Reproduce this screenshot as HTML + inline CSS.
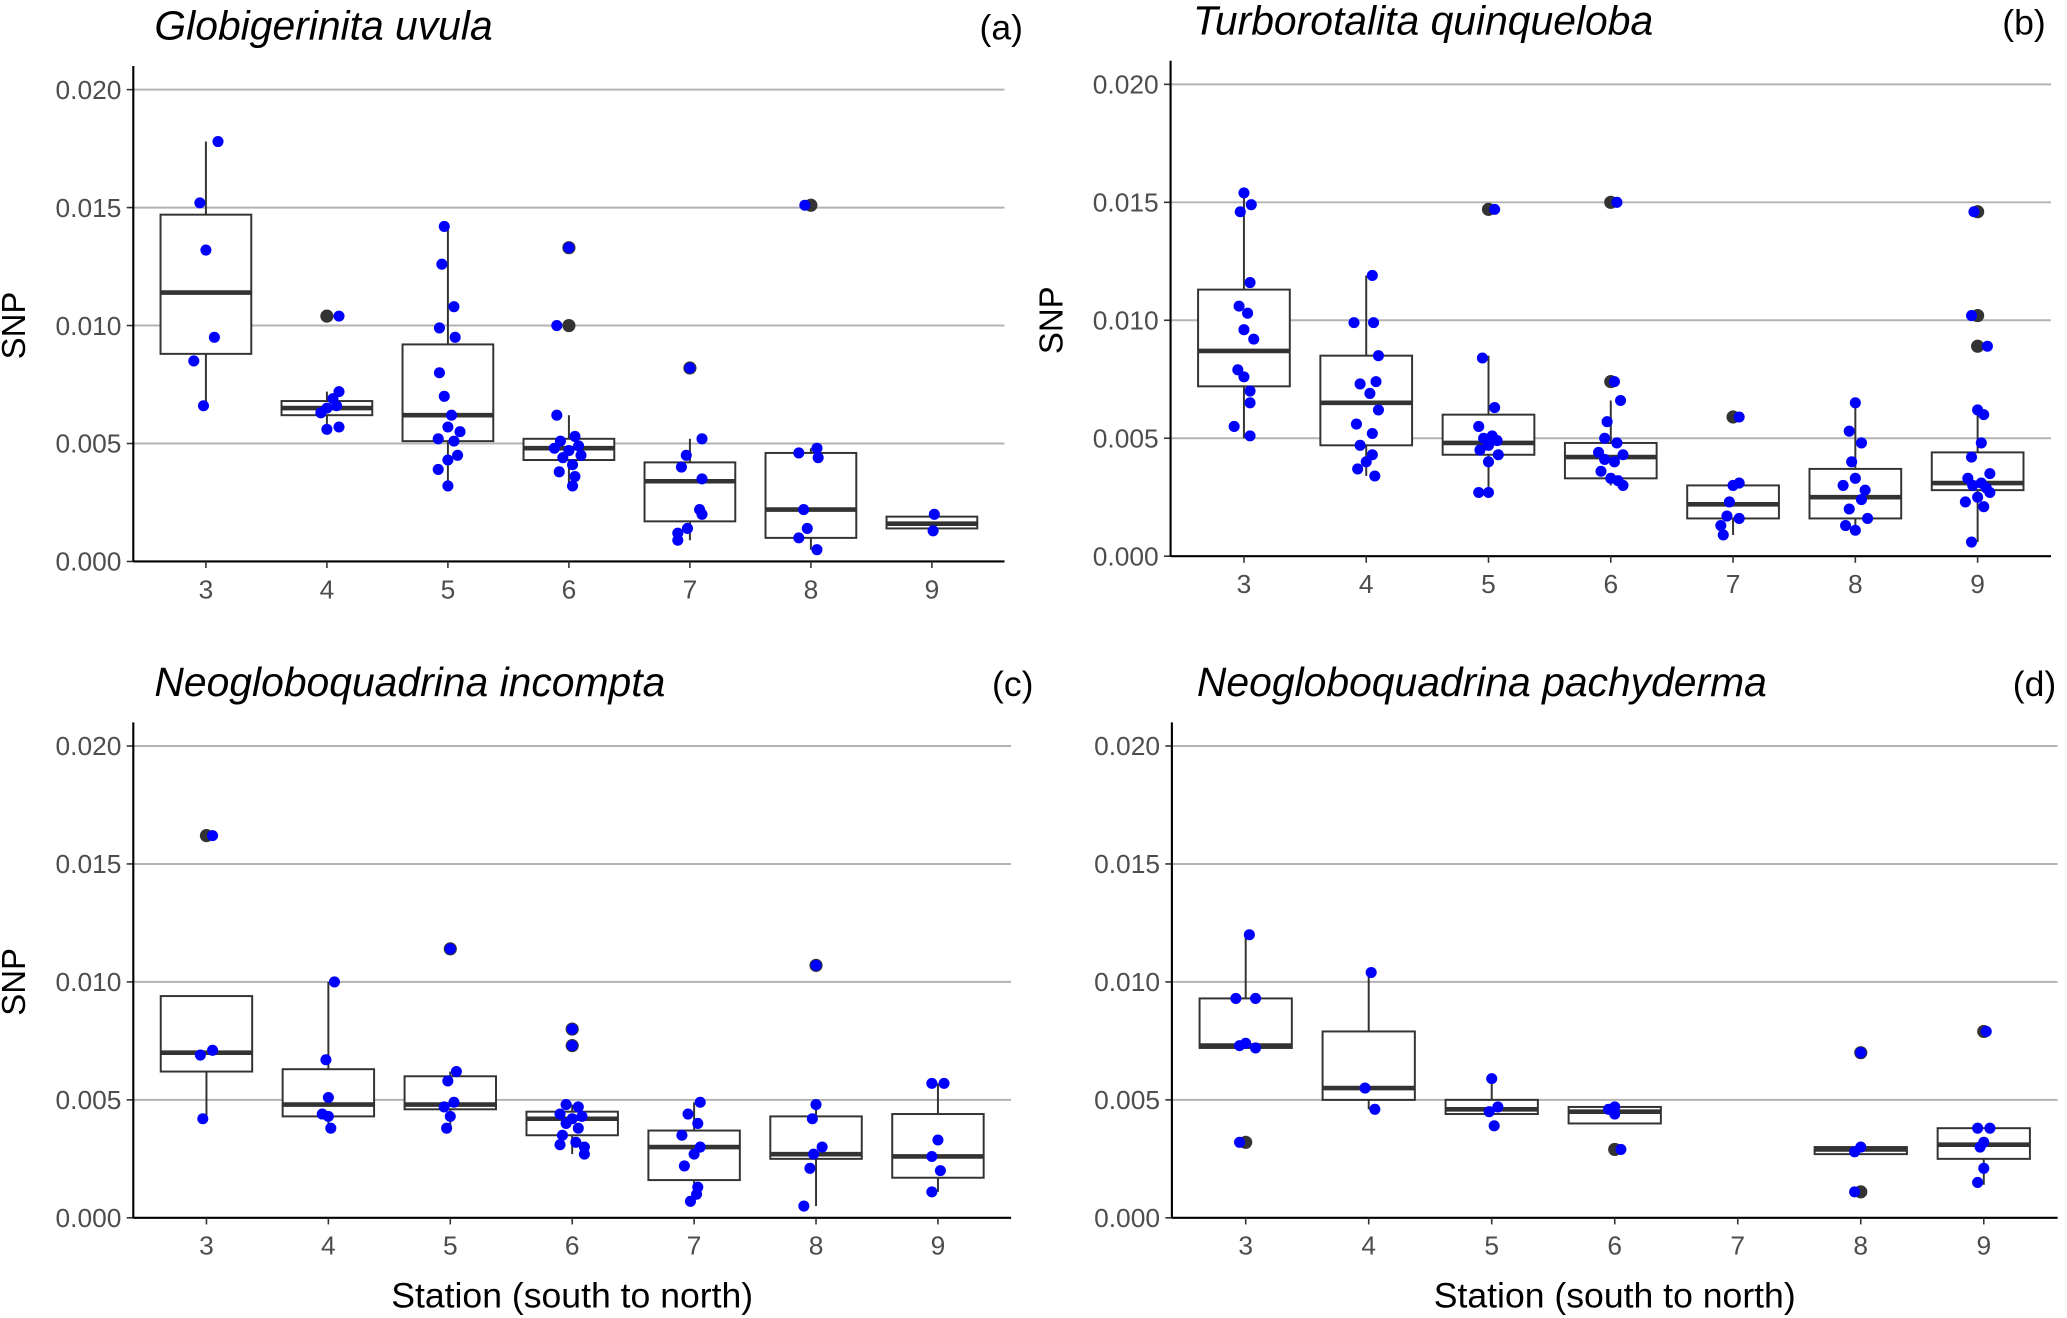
<!DOCTYPE html>
<html><head><meta charset="utf-8"><style>
html,body{margin:0;padding:0;background:#fff}
svg{display:block}
text{font-family:"Liberation Sans",sans-serif}
</style></head><body>
<svg id="chart" width="2067" height="1318" viewBox="0 0 1568 1000" xmlns="http://www.w3.org/2000/svg"></svg>
<script>
const stations = ["3","4","5","6","7","8","9"];
const yTicks = [0, 0.005, 0.010, 0.015, 0.020];
const yTickLabels = ["0.000","0.005","0.010","0.015","0.020"];
const panelTitles = ["Globigerinita uvula","Turborotalita quinqueloba","Neogloboquadrina incompta","Neogloboquadrina pachyderma"];
const panelTags = ["(a)","(b)","(c)","(d)"];
// box stats per station: [whiskerLow, q1, median, q3, whiskerHigh] (null = no data)
const boxesA = [[0.0066,0.0088,0.0114,0.0147,0.0178],[0.0056,0.0062,0.0065,0.0068,0.0072],[0.0032,0.0051,0.0062,0.0092,0.0142],[0.0032,0.0043,0.0048,0.0052,0.0062],[0.0009,0.0017,0.0034,0.0042,0.0052],[0.0005,0.0010,0.0022,0.0046,0.0048],[0.0014,0.0014,0.0016,0.0019,0.0019]];
const boxesB = [[0.0050,0.0072,0.0087,0.0113,0.0154],[0.0034,0.0047,0.0065,0.0085,0.0119],[0.0027,0.0043,0.0048,0.0060,0.0085],[0.0030,0.0033,0.0042,0.0048,0.0066],[0.0009,0.0016,0.0022,0.0030,0.0031],[0.0011,0.0016,0.0025,0.0037,0.0065],[0.0006,0.0028,0.0031,0.0044,0.0062]];
const boxesC = [[0.0042,0.0062,0.0070,0.0094,0.0094],[0.0038,0.0043,0.0048,0.0063,0.0100],[0.0038,0.0046,0.0048,0.0060,0.0062],[0.0027,0.0035,0.0042,0.0045,0.0048],[0.0007,0.0016,0.0030,0.0037,0.0049],[0.0005,0.0025,0.0027,0.0043,0.0048],[0.0011,0.0017,0.0026,0.0044,0.0057]];
const boxesD = [[0.0072,0.0072,0.0073,0.0093,0.0120],[0.0046,0.0050,0.0055,0.0079,0.0104],[0.0044,0.0044,0.0046,0.0050,0.0059],[0.0040,0.0040,0.0045,0.0047,0.0047],null,[0.0027,0.0027,0.0029,0.0030,0.0030],[0.0014,0.0025,0.0031,0.0038,0.0038]];
// outliers per station
const outA = [[],[0.0104],[],[0.0133,0.0100],[0.0082],[0.0151],[]];
const outB = [[],[],[0.0147],[0.0150,0.0074],[0.0059],[],[0.0146,0.0102,0.0089]];
const outC = [[0.0162],[],[0.0114],[0.0080,0.0073],[],[0.0107],[]];
const outD = [[0.0032],[],[],[0.0029],[],[0.0070,0.0011],[0.0079]];
// jittered points per station: [value, jitterOffset(category units)]
const ptsA = [
 [[0.0178,0.1],[0.0152,-0.05],[0.0132,0],[0.0095,0.07],[0.0085,-0.1],[0.0066,-0.02]],
 [[0.0104,0.1],[0.0072,0.1],[0.0069,0.05],[0.0066,0.08],[0.0063,-0.05],[0.0065,0],[0.0057,0.1],[0.0056,0]],
 [[0.0142,-0.03],[0.0126,-0.05],[0.0108,0.05],[0.0099,-0.07],[0.0095,0.06],[0.0080,-0.07],[0.0070,-0.03],[0.0062,0.03],[0.0057,0],[0.0055,0.1],[0.0052,-0.08],[0.0051,0.05],[0.0045,0.08],[0.0043,0],[0.0039,-0.08],[0.0032,0]],
 [[0.0133,0],[0.0100,-0.1],[0.0062,-0.1],[0.0053,0.05],[0.0051,-0.07],[0.0049,0.08],[0.0048,-0.12],[0.0047,0],[0.0045,0.1],[0.0044,-0.05],[0.0041,0.03],[0.0038,-0.08],[0.0036,0.05],[0.0032,0.03]],
 [[0.0082,0],[0.0052,0.1],[0.0045,-0.03],[0.0040,-0.07],[0.0035,0.1],[0.0022,0.08],[0.0020,0.1],[0.0014,-0.02],[0.0012,-0.1],[0.0009,-0.1]],
 [[0.0151,-0.05],[0.0048,0.05],[0.0046,-0.1],[0.0044,0.06],[0.0022,-0.06],[0.0014,-0.03],[0.0010,-0.1],[0.0005,0.05]],
 [[0.0020,0.02],[0.0013,0.01]]];
const ptsB = [
 [[0.0154,0],[0.0149,0.06],[0.0146,-0.03],[0.0116,0.05],[0.0106,-0.04],[0.0103,0.03],[0.0096,0],[0.0092,0.08],[0.0079,-0.05],[0.0076,0],[0.0070,0.05],[0.0065,0.05],[0.0055,-0.08],[0.0051,0.05]],
 [[0.0119,0.05],[0.0099,-0.1],[0.0099,0.06],[0.0085,0.1],[0.0074,0.08],[0.0073,-0.05],[0.0069,0.03],[0.0062,0.1],[0.0056,-0.08],[0.0052,0.05],[0.0047,-0.05],[0.0043,0.05],[0.0037,-0.07],[0.0034,0.07],[0.0040,0]],
 [[0.0147,0.05],[0.0084,-0.05],[0.0063,0.05],[0.0055,-0.08],[0.0051,0.03],[0.0050,-0.04],[0.0049,0.07],[0.0047,0],[0.0045,-0.07],[0.0043,0.08],[0.0040,0],[0.0027,-0.08],[0.0027,0]],
 [[0.0150,0.05],[0.0074,0.03],[0.0066,0.08],[0.0057,-0.03],[0.0050,-0.05],[0.0048,0.05],[0.0044,-0.1],[0.0043,0.1],[0.0041,-0.05],[0.0040,0.03],[0.0036,-0.08],[0.0033,0],[0.0032,0.06],[0.0030,0.1]],
 [[0.0059,0.05],[0.0031,0.05],[0.0030,0],[0.0023,-0.03],[0.0017,-0.05],[0.0016,0.05],[0.0013,-0.1],[0.0009,-0.08]],
 [[0.0065,0],[0.0053,-0.05],[0.0048,0.05],[0.0040,-0.03],[0.0033,0],[0.0030,-0.1],[0.0028,0.08],[0.0024,0.05],[0.0020,-0.05],[0.0016,0.1],[0.0013,-0.08],[0.0011,0]],
 [[0.0146,-0.03],[0.0102,-0.05],[0.0089,0.08],[0.0062,0],[0.0060,0.05],[0.0048,0.03],[0.0042,-0.05],[0.0035,0.1],[0.0033,-0.08],[0.0031,0.03],[0.0030,-0.04],[0.0029,0.07],[0.0027,0.1],[0.0025,0],[0.0023,-0.1],[0.0021,0.05],[0.0006,-0.05]]];
const ptsC = [
 [[0.0162,0.05],[0.0071,0.05],[0.0069,-0.05],[0.0042,-0.03]],
 [[0.0100,0.05],[0.0067,-0.02],[0.0051,0],[0.0044,-0.05],[0.0043,0],[0.0038,0.02]],
 [[0.0114,0],[0.0062,0.05],[0.0058,-0.02],[0.0049,0.03],[0.0047,-0.05],[0.0043,0],[0.0038,-0.03]],
 [[0.0080,0],[0.0073,0],[0.0048,-0.05],[0.0047,0.05],[0.0044,-0.1],[0.0043,0.08],[0.0042,0],[0.0040,-0.05],[0.0038,0.05],[0.0035,-0.08],[0.0032,0.03],[0.0030,0.1],[0.0027,0.1],[0.0031,-0.1]],
 [[0.0049,0.05],[0.0044,-0.05],[0.0040,0.03],[0.0035,-0.1],[0.0030,0.05],[0.0027,0],[0.0022,-0.08],[0.0013,0.03],[0.0010,0.02],[0.0007,-0.03]],
 [[0.0107,0],[0.0048,0],[0.0042,-0.03],[0.0030,0.05],[0.0027,-0.02],[0.0021,-0.05],[0.0005,-0.1]],
 [[0.0057,-0.05],[0.0057,0.05],[0.0033,0],[0.0026,-0.05],[0.0020,0.02],[0.0011,-0.05]]];
const ptsD = [
 [[0.0120,0.03],[0.0093,-0.08],[0.0093,0.08],[0.0074,0],[0.0073,-0.05],[0.0072,0.08],[0.0032,-0.05]],
 [[0.0104,0.02],[0.0055,-0.03],[0.0046,0.05]],
 [[0.0059,0],[0.0047,0.05],[0.0045,-0.02],[0.0039,0.02]],
 [[0.0047,0],[0.0046,-0.05],[0.0044,0],[0.0029,0.05]],
 [],
 [[0.0070,0],[0.0030,0],[0.0028,-0.05],[0.0011,-0.05]],
 [[0.0079,0.02],[0.0038,-0.05],[0.0038,0.05],[0.0032,0],[0.0030,-0.03],[0.0021,0],[0.0015,-0.05]]];

const panels = [
 {x0:101,x1:762,y0:426,y20:68,boxes:boxesA,out:outA,pts:ptsA,snp:true,xt:false,tx:117,ty:30,tagx:776},
 {x0:888,x1:1556,y0:422,y20:64,boxes:boxesB,out:outB,pts:ptsB,snp:true,xt:false,tx:905,ty:26,tagx:1552},
 {x0:101,x1:767,y0:924,y20:566,boxes:boxesC,out:outC,pts:ptsC,snp:true,xt:true,tx:117,ty:528,tagx:784},
 {x0:889,x1:1561,y0:924,y20:566,boxes:boxesD,out:outD,pts:ptsD,snp:false,xt:true,tx:908,ty:528,tagx:1560}
];
const NS="http://www.w3.org/2000/svg";
const svg=document.getElementById('chart');
function mk(tag,attrs,parent){const e=document.createElementNS(NS,tag);for(const k in attrs)e.setAttribute(k,attrs[k]);(parent||svg).appendChild(e);return e;}
panels.forEach((p,pi)=>{
 const g=mk('g',{});
 
 
 const ys=v=>p.y0-(p.y0-p.y20)*v/0.020;
 const step=(p.x1-p.x0)/7.2;
 const xs=(i)=>p.x0+(i+0.6)*step;
 yTicks.forEach((t,ti)=>{
  if(t>0){const l=mk('line',{x1:p.x0,x2:p.x1,y1:ys(t),y2:ys(t),stroke:'#b3b3b3','stroke-width':1.5},g);
   }
  const tk=mk('line',{x1:p.x0-5,x2:p.x0,y1:ys(t),y2:ys(t),stroke:'#333','stroke-width':1.2},g);
  
  const tl=mk('text',{x:p.x0-9,y:ys(t)+7,'text-anchor':'end','font-size':20,fill:'#4d4d4d'},g);
  tl.textContent=yTickLabels[ti];
  
 });
 const ya=mk('line',{x1:p.x0,x2:p.x0,y1:ys(0.021),y2:p.y0,stroke:'#000','stroke-width':1.6},g);
 
 const xa=mk('line',{x1:p.x0,x2:p.x1,y1:p.y0,y2:p.y0,stroke:'#000','stroke-width':1.6},g);
 
 stations.forEach((s,i)=>{
  const tk=mk('line',{x1:xs(i),x2:xs(i),y1:p.y0,y2:p.y0+5,stroke:'#333','stroke-width':1.2},g);
  
  const tl=mk('text',{x:xs(i),y:p.y0+28,'text-anchor':'middle','font-size':20,fill:'#4d4d4d'},g);
  tl.textContent=s;
  
 });
 p.boxes.forEach((b,i)=>{
  if(!b)return;
  const cx=xs(i),hw=step*0.375;
  const bg=mk('g',{},g);
  
  mk('line',{x1:cx,x2:cx,y1:ys(b[0]),y2:ys(b[1]),stroke:'#333','stroke-width':1.5},bg);
  mk('line',{x1:cx,x2:cx,y1:ys(b[3]),y2:ys(b[4]),stroke:'#333','stroke-width':1.5},bg);
  mk('rect',{x:cx-hw,y:ys(b[3]),width:2*hw,height:Math.max(ys(b[1])-ys(b[3]),0.5),fill:'#fff',stroke:'#333','stroke-width':1.5},bg);
  mk('line',{x1:cx-hw,x2:cx+hw,y1:ys(b[2]),y2:ys(b[2]),stroke:'#333','stroke-width':3.5},bg);
 });
 p.out.forEach((o,i)=>o.forEach(v=>{
  const c=mk('circle',{cx:xs(i),cy:ys(v),r:5,fill:'#333'},g);
  
 }));
 p.pts.forEach((arr,i)=>arr.forEach(([v,j])=>{
  const c=mk('circle',{cx:xs(i)+j*step,cy:ys(v),r:4.2,fill:'#0000ff'},g);
  
 }));
 const t=mk('text',{x:p.tx,y:p.ty,'font-size':31,'font-style':'italic',fill:'#000'},g);
 t.textContent=panelTitles[pi];
 const tg=mk('text',{x:p.tagx,y:p.ty,'font-size':27,'text-anchor':'end',fill:'#000'},g);
 tg.textContent=panelTags[pi];
 if(p.snp){
  const cy=(p.y0+p.y20)/2;const lx=p.x0-82;
  const sl=mk('text',{x:lx,y:cy,'font-size':25,'text-anchor':'middle',transform:`rotate(-90 ${lx} ${cy})`,fill:'#000'},g);
  sl.textContent='SNP';
 }
 if(p.xt){
  const xt=mk('text',{x:(p.x0+p.x1)/2,y:992,'font-size':27,'text-anchor':'middle',fill:'#000'},g);
  xt.textContent='Station (south to north)';
 }
});
</script>
</body></html>
